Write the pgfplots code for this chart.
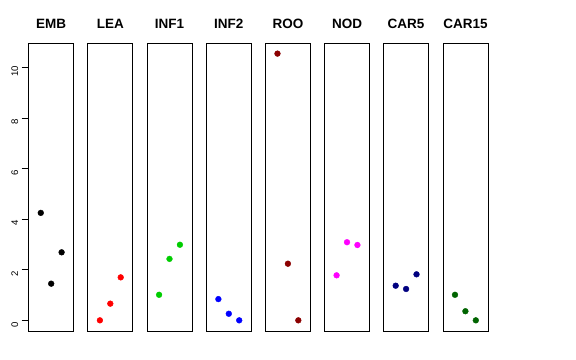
\documentclass[border=0pt]{standalone}
\usepackage{pgfplots}
\pgfplotsset{compat=1.18}
\usepackage{fontspec}
\setmainfont{Liberation Sans}
\definecolor{cgreen}{RGB}{0,205,0}
\definecolor{cdarkred}{RGB}{139,0,0}
\definecolor{cnavy}{RGB}{0,0,128}
\definecolor{cdarkgreen}{RGB}{0,100,0}
\definecolor{cmagenta}{RGB}{255,0,255}
\definecolor{cblue}{RGB}{0,0,255}
\definecolor{cred}{RGB}{255,0,0}
\pgfplotsset{
  panel/.style={
    scale only axis, width=45bp, height=288bp,
    xmin=-0.16, xmax=4.16, ymin=-0.422, ymax=10.97,
    xtick=\empty, ytick=\empty,
    axis line style={line width=0.8bp, black},
    anchor=south west,
    title style={at={(0.5,1)}, anchor=base, yshift=9bp, font=\fontsize{13.5bp}{15bp}\selectfont\bfseries},
  },
  dots/.style={only marks, mark=*, mark size=2.9bp},
}
\begin{document}
\begin{tikzpicture}
\path[use as bounding box] (0,0) rectangle (576bp,360bp);
\begin{axis}[panel, at={(28.7bp,29bp)}, title={EMB},
  ytick={0,2,4,6,8,10}, yticklabels={0,2,4,6,8,10},
  tick align=outside, major tick length=7bp,
  ytick pos=left, tick style={line width=0.8bp, black},
  yticklabel style={rotate=90, anchor=south, font=\fontsize{9.6bp}{11bp}\selectfont, xshift=-4bp}]
\addplot[dots, black] coordinates {(1,4.25) (2,1.45) (3,2.69)};
\end{axis}
\begin{axis}[panel, at={(87.8bp,29bp)}, title={LEA}]
\addplot[dots, cred] coordinates {(1,0) (2,0.66) (3,1.70)};
\end{axis}
\begin{axis}[panel, at={(147bp,29bp)}, title={INF1}]
\addplot[dots, cgreen] coordinates {(1,1.01) (2,2.43) (3,2.99)};
\end{axis}
\begin{axis}[panel, at={(206.3bp,29bp)}, title={INF2}]
\addplot[dots, cblue] coordinates {(1,0.84) (2,0.26) (3,0)};
\end{axis}
\begin{axis}[panel, at={(265.4bp,29bp)}, title={ROO}]
\addplot[dots, cdarkred] coordinates {(1,10.55) (2,2.24) (3,0)};
\end{axis}
\begin{axis}[panel, at={(324.5bp,29bp)}, title={NOD}]
\addplot[dots, cmagenta] coordinates {(1,1.78) (2,3.09) (3,2.98)};
\end{axis}
\begin{axis}[panel, at={(383.6bp,29bp)}, title={CAR5}]
\addplot[dots, cnavy] coordinates {(1,1.37) (2,1.24) (3,1.82)};
\end{axis}
\begin{axis}[panel, at={(442.9bp,29bp)}, title={CAR15}]
\addplot[dots, cdarkgreen] coordinates {(1,1.01) (2,0.36) (3,0)};
\end{axis}
\end{tikzpicture}
\end{document}
